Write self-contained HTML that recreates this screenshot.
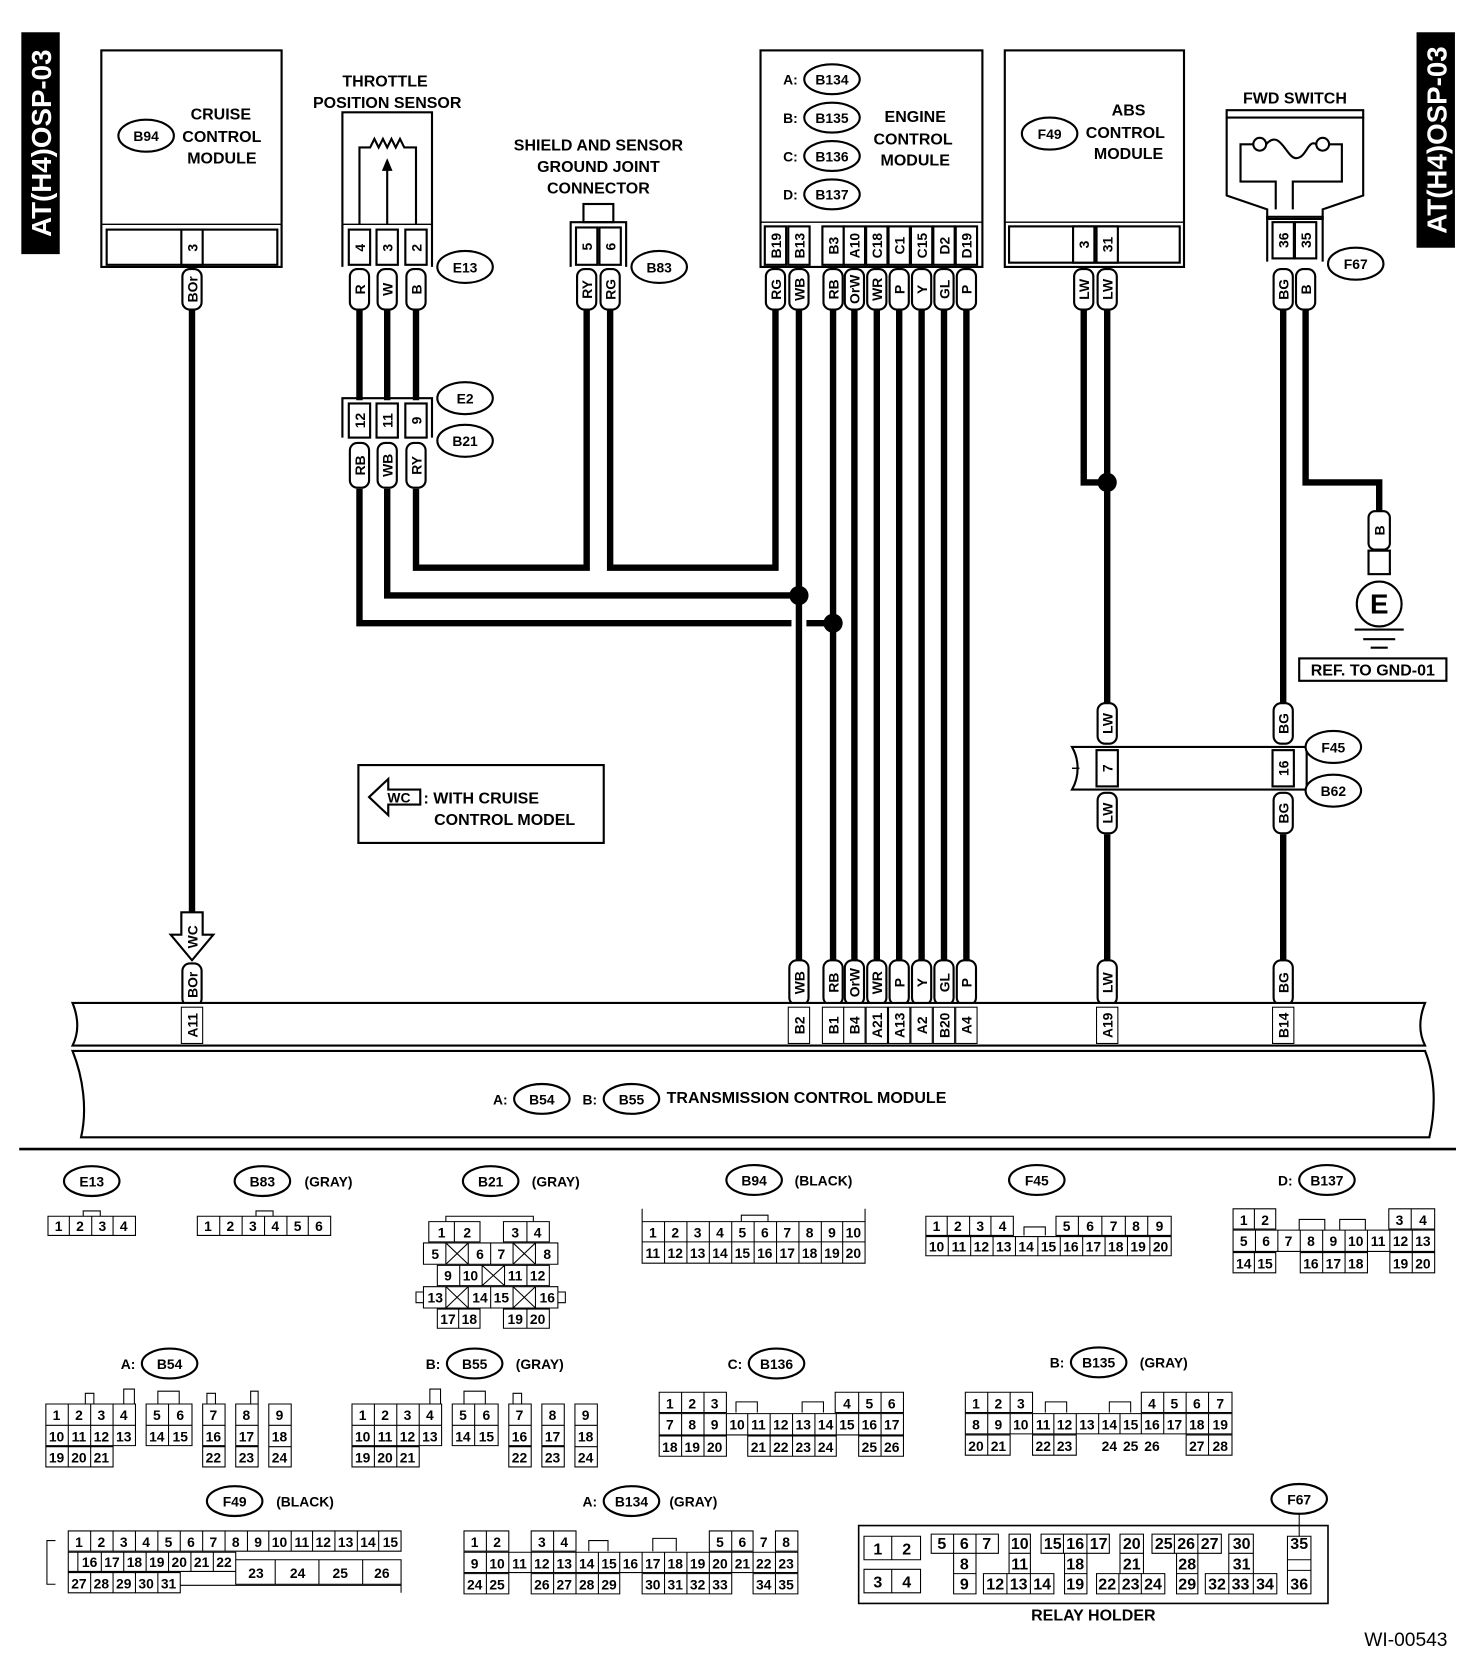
<!DOCTYPE html>
<html><head><meta charset="utf-8"><style>
html,body{margin:0;padding:0;background:#fff}
svg{display:block}
text{font-family:"Liberation Sans",sans-serif;font-weight:bold;fill:#000}
.l{font-size:15px}
.s{font-size:13px;font-weight:normal}
.p{font-size:13px}
.w{stroke:#000;stroke-width:6;fill:none}
.o{stroke:#000;stroke-width:2;fill:#fff}
.n{stroke:#000;stroke-width:1.3;fill:none}
.c{stroke:#000;stroke-width:1;fill:#fff}
</style></head><body>
<svg width="1472" height="1656" viewBox="0 0 1380 1552" xmlns="http://www.w3.org/2000/svg">
<rect x="20" y="30" width="36" height="208" fill="#000"/>
<text transform="translate(48,134) rotate(-90)" text-anchor="middle" style="font-size:26px;fill:#fff">AT(H4)OSP-03</text>
<rect x="1328" y="30" width="36" height="202" fill="#000"/>
<text transform="translate(1356,131) rotate(-90)" text-anchor="middle" style="font-size:26px;fill:#fff">AT(H4)OSP-03</text>

<g class="w">
<path d="M180 290V872"/>
<path d="M337 290V375M363 290V375M390 290V375"/>
<path d="M337 458V584H742M756 584H781"/>
<path d="M363 458V558H749"/>
<path d="M390 458V532H550V290"/>
<path d="M572 290V532H727V290"/>
<path d="M749 290V900M781 290V900M801 290V900M822 290V900M843 290V900M864 290V900M885 290V900M906 290V900"/>
<path d="M1016 290V452H1038M1038 290V660M1038 782V900"/>
<path d="M1203 290V660M1203 782V900"/>
<path d="M1224 290V452H1293V480"/>
</g>
<circle cx="749" cy="558" r="9"/><circle cx="781" cy="584" r="9"/><circle cx="1038" cy="452" r="9"/>

<rect x="95" y="47" width="169" height="203" class="o"/>
<line x1="95" y1="210" x2="264" y2="210" class="n"/>
<rect x="100" y="215" width="160" height="33" class="o"/>
<rect x="170" y="215" width="20" height="33" class="o"/>
<text class="p" transform="translate(180,232) rotate(-90)" text-anchor="middle" dy="5">3</text>
<ellipse cx="137" cy="127" rx="26" ry="15" class="o"/><text class="p" x="137" y="132" text-anchor="middle">B94</text>
<text class="l" x="207" y="112" text-anchor="middle">CRUISE</text>
<text class="l" x="208" y="133" text-anchor="middle">CONTROL</text>
<text class="l" x="208" y="153" text-anchor="middle">MODULE</text>

<text class="l" x="361" y="81" text-anchor="middle">THROTTLE</text>
<text class="l" x="363" y="101" text-anchor="middle">POSITION SENSOR</text>
<path d="M321 250V105H405V250" class="n" style="stroke-width:2"/>
<path d="M337 210V138H347l4-8 4 8 4-8 4 8 4-8 4 8 4-8 4 8H390V210M363 210V152" class="n" style="stroke-width:2"/>
<path d="M358 160l5-12 5 12z"/>
<line x1="321" y1="210" x2="405" y2="210" class="n"/>
<g><rect x="327" y="215" width="20" height="33" class="o"/><rect x="353" y="215" width="20" height="33" class="o"/><rect x="380" y="215" width="20" height="33" class="o"/>
<text class="p" transform="translate(337,232) rotate(-90)" text-anchor="middle" dy="5">4</text>
<text class="p" transform="translate(363,232) rotate(-90)" text-anchor="middle" dy="5">3</text>
<text class="p" transform="translate(390,232) rotate(-90)" text-anchor="middle" dy="5">2</text></g>
<ellipse cx="436" cy="250" rx="26" ry="15" class="o"/><text class="p" x="436" y="255" text-anchor="middle">E13</text>

<path d="M321 410V373H405V410" class="n" style="stroke-width:2"/>
<rect x="327" y="378" width="20" height="32" class="o"/><rect x="353" y="378" width="20" height="32" class="o"/><rect x="380" y="378" width="20" height="32" class="o"/>
<text class="p" transform="translate(337,394) rotate(-90)" text-anchor="middle" dy="5">12</text>
<text class="p" transform="translate(363,394) rotate(-90)" text-anchor="middle" dy="5">11</text>
<text class="p" transform="translate(390,394) rotate(-90)" text-anchor="middle" dy="5">9</text>
<ellipse cx="436" cy="373" rx="26" ry="15" class="o"/><text class="p" x="436" y="378" text-anchor="middle">E2</text>
<ellipse cx="436" cy="413" rx="26" ry="15" class="o"/><text class="p" x="436" y="418" text-anchor="middle">B21</text>

<text class="l" x="561" y="141" text-anchor="middle">SHIELD AND SENSOR</text>
<text class="l" x="561" y="161" text-anchor="middle">GROUND JOINT</text>
<text class="l" x="561" y="181" text-anchor="middle">CONNECTOR</text>
<rect x="547" y="191" width="28" height="17" class="o"/>
<path d="M535 250V208H587V250" class="n" style="stroke-width:2"/>
<rect x="540" y="213" width="20" height="35" class="o"/><rect x="562" y="213" width="20" height="35" class="o"/>
<text class="p" transform="translate(550,231) rotate(-90)" text-anchor="middle" dy="5">5</text>
<text class="p" transform="translate(572,231) rotate(-90)" text-anchor="middle" dy="5">6</text>
<ellipse cx="618" cy="250" rx="26" ry="15" class="o"/><text class="p" x="618" y="255" text-anchor="middle">B83</text>

<rect x="713" y="47" width="208" height="203" class="o"/>
<line x1="713" y1="208" x2="921" y2="208" class="n"/>
<g class="p" text-anchor="middle">
<text x="741" y="79">A:</text><ellipse cx="780" cy="74" rx="26" ry="14" class="o"/><text x="780" y="79">B134</text>
<text x="741" y="115">B:</text><ellipse cx="780" cy="110" rx="26" ry="14" class="o"/><text x="780" y="115">B135</text>
<text x="741" y="151">C:</text><ellipse cx="780" cy="146" rx="26" ry="14" class="o"/><text x="780" y="151">B136</text>
<text x="741" y="187">D:</text><ellipse cx="780" cy="182" rx="26" ry="14" class="o"/><text x="780" y="187">B137</text>
</g>
<text class="l" x="858" y="114" text-anchor="middle">ENGINE</text>
<text class="l" x="856" y="135" text-anchor="middle">CONTROL</text>
<text class="l" x="858" y="155" text-anchor="middle">MODULE</text>
<g>
<rect x="717" y="212" width="20" height="36" class="o"/><rect x="739" y="212" width="20" height="36" class="o"/>
<rect x="771" y="212" width="20" height="36" class="o"/><rect x="791" y="212" width="20" height="36" class="o"/><rect x="812" y="212" width="20" height="36" class="o"/><rect x="833" y="212" width="20" height="36" class="o"/><rect x="854" y="212" width="20" height="36" class="o"/><rect x="875" y="212" width="20" height="36" class="o"/><rect x="896" y="212" width="20" height="36" class="o"/>
<g class="p" text-anchor="middle">
<text transform="translate(727,230) rotate(-90)" dy="5">B19</text>
<text transform="translate(749,230) rotate(-90)" dy="5">B13</text>
<text transform="translate(781,230) rotate(-90)" dy="5">B3</text>
<text transform="translate(801,230) rotate(-90)" dy="5">A10</text>
<text transform="translate(822,230) rotate(-90)" dy="5">C18</text>
<text transform="translate(843,230) rotate(-90)" dy="5">C1</text>
<text transform="translate(864,230) rotate(-90)" dy="5">C15</text>
<text transform="translate(885,230) rotate(-90)" dy="5">D2</text>
<text transform="translate(906,230) rotate(-90)" dy="5">D19</text>
</g></g>

<rect x="942" y="47" width="168" height="203" class="o"/>
<line x1="942" y1="208" x2="1110" y2="208" class="n"/>
<rect x="946" y="212" width="160" height="34" class="o"/>
<rect x="1006" y="212" width="20" height="34" class="o"/><rect x="1028" y="212" width="20" height="34" class="o"/>
<text class="p" transform="translate(1016,229) rotate(-90)" text-anchor="middle" dy="5">3</text>
<text class="p" transform="translate(1038,229) rotate(-90)" text-anchor="middle" dy="5">31</text>
<ellipse cx="984" cy="125" rx="26" ry="15" class="o"/><text class="p" x="984" y="130" text-anchor="middle">F49</text>
<text class="l" x="1058" y="108" text-anchor="middle">ABS</text>
<text class="l" x="1055" y="129" text-anchor="middle">CONTROL</text>
<text class="l" x="1058" y="149" text-anchor="middle">MODULE</text>

<text class="l" x="1214" y="97" text-anchor="middle">FWD SWITCH</text>
<path d="M1150 103H1278V110H1150Z" class="o"/>
<path d="M1150 110V183L1188 196V205H1240V196L1278 183V110" class="n" style="stroke-width:2"/>
<path d="M1196 196V170H1163V135H1176M1212 196V170H1258V135H1245" class="n" style="stroke-width:2"/>
<circle cx="1181" cy="135" r="6" class="o"/><circle cx="1240" cy="135" r="6" class="o"/>
<path d="M1187 135C1200 120 1206 148 1215 148C1225 148 1226 130 1234 135" class="n" style="stroke-width:2"/>
<path d="M1188 245V203H1240V245" class="n" style="stroke-width:2"/>
<rect x="1193" y="208" width="20" height="34" class="o"/><rect x="1214" y="208" width="20" height="34" class="o"/>
<text class="p" transform="translate(1203,225) rotate(-90)" text-anchor="middle" dy="5">36</text>
<text class="p" transform="translate(1224,225) rotate(-90)" text-anchor="middle" dy="5">35</text>
<ellipse cx="1271" cy="247" rx="26" ry="15" class="o"/><text class="p" x="1271" y="252" text-anchor="middle">F67</text>

<rect x="1283" y="479" width="20" height="36" rx="6" class="o"/>
<text class="p" transform="translate(1293,497) rotate(-90)" text-anchor="middle" dy="5">B</text>
<rect x="1283" y="516" width="20" height="22" class="o"/>
<circle cx="1293" cy="566" r="21" class="o"/>
<text x="1293" y="575" text-anchor="middle" style="font-size:26px">E</text>
<path d="M1270 590H1316M1278 599H1308M1285 607H1301" class="n" style="stroke-width:2"/>
<rect x="1218" y="617" width="138" height="21" class="o"/>
<text class="l" x="1287" y="633" text-anchor="middle">REF. TO GND-01</text>

<path d="M1005 700H1225V740H1005C1012 728 1012 712 1005 700Z" class="o"/>
<line x1="1005" y1="720" x2="1012" y2="720" class="n"/>
<rect x="1028" y="703" width="20" height="34" class="o"/><rect x="1193" y="703" width="20" height="34" class="o"/>
<text class="p" transform="translate(1038,720) rotate(-90)" text-anchor="middle" dy="5">7</text>
<text class="p" transform="translate(1203,720) rotate(-90)" text-anchor="middle" dy="5">16</text>
<ellipse cx="1250" cy="700" rx="26" ry="15" class="o"/><text class="p" x="1250" y="705" text-anchor="middle">F45</text>
<ellipse cx="1250" cy="741" rx="26" ry="15" class="o"/><text class="p" x="1250" y="746" text-anchor="middle">B62</text>

<g class="p" text-anchor="middle">
<rect x="171" y="252" width="18" height="38" rx="7" class="o"/><text transform="translate(180,271) rotate(-90)" dy="5">BOr</text>
<rect x="328" y="252" width="18" height="38" rx="7" class="o"/><text transform="translate(337,271) rotate(-90)" dy="5">R</text>
<rect x="354" y="252" width="18" height="38" rx="7" class="o"/><text transform="translate(363,271) rotate(-90)" dy="5">W</text>
<rect x="381" y="252" width="18" height="38" rx="7" class="o"/><text transform="translate(390,271) rotate(-90)" dy="5">B</text>
<rect x="328" y="415" width="18" height="42" rx="7" class="o"/><text transform="translate(337,436) rotate(-90)" dy="5">RB</text>
<rect x="354" y="415" width="18" height="42" rx="7" class="o"/><text transform="translate(363,436) rotate(-90)" dy="5">WB</text>
<rect x="381" y="415" width="18" height="42" rx="7" class="o"/><text transform="translate(390,436) rotate(-90)" dy="5">RY</text>
<rect x="541" y="252" width="18" height="38" rx="7" class="o"/><text transform="translate(550,271) rotate(-90)" dy="5">RY</text>
<rect x="563" y="252" width="18" height="38" rx="7" class="o"/><text transform="translate(572,271) rotate(-90)" dy="5">RG</text>
<rect x="718" y="252" width="18" height="38" rx="7" class="o"/><text transform="translate(727,271) rotate(-90)" dy="5">RG</text>
<rect x="740" y="252" width="18" height="38" rx="7" class="o"/><text transform="translate(749,271) rotate(-90)" dy="5">WB</text>
<rect x="772" y="252" width="18" height="38" rx="7" class="o"/><text transform="translate(781,271) rotate(-90)" dy="5">RB</text>
<rect x="792" y="252" width="18" height="38" rx="7" class="o"/><text transform="translate(801,271) rotate(-90)" dy="5">OrW</text>
<rect x="813" y="252" width="18" height="38" rx="7" class="o"/><text transform="translate(822,271) rotate(-90)" dy="5">WR</text>
<rect x="834" y="252" width="18" height="38" rx="7" class="o"/><text transform="translate(843,271) rotate(-90)" dy="5">P</text>
<rect x="855" y="252" width="18" height="38" rx="7" class="o"/><text transform="translate(864,271) rotate(-90)" dy="5">Y</text>
<rect x="876" y="252" width="18" height="38" rx="7" class="o"/><text transform="translate(885,271) rotate(-90)" dy="5">GL</text>
<rect x="897" y="252" width="18" height="38" rx="7" class="o"/><text transform="translate(906,271) rotate(-90)" dy="5">P</text>
<rect x="1007" y="252" width="18" height="38" rx="7" class="o"/><text transform="translate(1016,271) rotate(-90)" dy="5">LW</text>
<rect x="1029" y="252" width="18" height="38" rx="7" class="o"/><text transform="translate(1038,271) rotate(-90)" dy="5">LW</text>
<rect x="1194" y="252" width="18" height="38" rx="7" class="o"/><text transform="translate(1203,271) rotate(-90)" dy="5">BG</text>
<rect x="1215" y="252" width="18" height="38" rx="7" class="o"/><text transform="translate(1224,271) rotate(-90)" dy="5">B</text>
<rect x="1029" y="659" width="18" height="38" rx="7" class="o"/><text transform="translate(1038,678) rotate(-90)" dy="5">LW</text>
<rect x="1194" y="659" width="18" height="38" rx="7" class="o"/><text transform="translate(1203,678) rotate(-90)" dy="5">BG</text>
<rect x="1029" y="743" width="18" height="38" rx="7" class="o"/><text transform="translate(1038,762) rotate(-90)" dy="5">LW</text>
<rect x="1194" y="743" width="18" height="38" rx="7" class="o"/><text transform="translate(1203,762) rotate(-90)" dy="5">BG</text>
<rect x="171" y="903" width="18" height="40" rx="7" class="o"/><text transform="translate(180,923) rotate(-90)" dy="5">BOr</text>
<rect x="740" y="900" width="18" height="42" rx="7" class="o"/><text transform="translate(749,921) rotate(-90)" dy="5">WB</text>
<rect x="772" y="900" width="18" height="42" rx="7" class="o"/><text transform="translate(781,921) rotate(-90)" dy="5">RB</text>
<rect x="792" y="900" width="18" height="42" rx="7" class="o"/><text transform="translate(801,921) rotate(-90)" dy="5">OrW</text>
<rect x="813" y="900" width="18" height="42" rx="7" class="o"/><text transform="translate(822,921) rotate(-90)" dy="5">WR</text>
<rect x="834" y="900" width="18" height="42" rx="7" class="o"/><text transform="translate(843,921) rotate(-90)" dy="5">P</text>
<rect x="855" y="900" width="18" height="42" rx="7" class="o"/><text transform="translate(864,921) rotate(-90)" dy="5">Y</text>
<rect x="876" y="900" width="18" height="42" rx="7" class="o"/><text transform="translate(885,921) rotate(-90)" dy="5">GL</text>
<rect x="897" y="900" width="18" height="42" rx="7" class="o"/><text transform="translate(906,921) rotate(-90)" dy="5">P</text>
<rect x="1029" y="900" width="18" height="42" rx="7" class="o"/><text transform="translate(1038,921) rotate(-90)" dy="5">LW</text>
<rect x="1194" y="900" width="18" height="42" rx="7" class="o"/><text transform="translate(1203,921) rotate(-90)" dy="5">BG</text>
</g>
<path d="M170 855H190V876H200L180 900L160 876H170Z" class="o"/>
<text class="p" transform="translate(180,878) rotate(-90)" text-anchor="middle" dy="5">WC</text>

<rect x="336" y="717" width="230" height="73" class="o"/>
<path d="M346 747L364 730V740H394V754H364V764Z" class="o"/>
<text class="p" x="374" y="752" text-anchor="middle">WC</text>
<text class="l" x="397" y="753">: WITH CRUISE</text>
<text class="l" x="407" y="773">CONTROL MODEL</text>

<path d="M68 940H1336C1330 955 1330 968 1336 980H68C74 968 74 955 68 940Z" class="o"/>
<path d="M68 985H1336C1346 1010 1346 1040 1340 1066H76C82 1040 78 1010 68 985Z" class="o"/>
<g class="p" text-anchor="middle">
<rect x="170" y="944" width="20" height="34" class="c"/><text transform="translate(180,961) rotate(-90)" dy="5">A11</text>
<rect x="739" y="944" width="20" height="34" class="c"/><text transform="translate(749,961) rotate(-90)" dy="5">B2</text>
<rect x="771" y="944" width="20" height="34" class="c"/><text transform="translate(781,961) rotate(-90)" dy="5">B1</text>
<rect x="791" y="944" width="20" height="34" class="c"/><text transform="translate(801,961) rotate(-90)" dy="5">B4</text>
<rect x="812" y="944" width="20" height="34" class="c"/><text transform="translate(822,961) rotate(-90)" dy="5">A21</text>
<rect x="833" y="944" width="20" height="34" class="c"/><text transform="translate(843,961) rotate(-90)" dy="5">A13</text>
<rect x="854" y="944" width="20" height="34" class="c"/><text transform="translate(864,961) rotate(-90)" dy="5">A2</text>
<rect x="875" y="944" width="20" height="34" class="c"/><text transform="translate(885,961) rotate(-90)" dy="5">B20</text>
<rect x="896" y="944" width="20" height="34" class="c"/><text transform="translate(906,961) rotate(-90)" dy="5">A4</text>
<rect x="1028" y="944" width="20" height="34" class="c"/><text transform="translate(1038,961) rotate(-90)" dy="5">A19</text>
<rect x="1193" y="944" width="20" height="34" class="c"/><text transform="translate(1203,961) rotate(-90)" dy="5">B14</text>
<text x="469" y="1035">A:</text><ellipse cx="508" cy="1030" rx="26" ry="14" class="o"/><text x="508" y="1035">B54</text>
<text x="553" y="1035">B:</text><ellipse cx="592" cy="1030" rx="26" ry="14" class="o"/><text x="592" y="1035">B55</text>
</g>
<text class="l" x="625" y="1034">TRANSMISSION CONTROL MODULE</text>

<line x1="18" y1="1077" x2="1365" y2="1077" stroke="#000" stroke-width="2.5"/>

<g class="p" text-anchor="middle">
<ellipse cx="86" cy="1107" rx="26" ry="14" class="o"/><text x="86" y="1112">E13</text>
<ellipse cx="246" cy="1107" rx="26" ry="14" class="o"/><text x="246" y="1112">B83</text><text x="308" y="1112">(GRAY)</text>
<ellipse cx="460" cy="1107" rx="26" ry="14" class="o"/><text x="460" y="1112">B21</text><text x="521" y="1112">(GRAY)</text>
<ellipse cx="707" cy="1106" rx="26" ry="14" class="o"/><text x="707" y="1111">B94</text><text x="772" y="1111">(BLACK)</text>
<ellipse cx="972" cy="1106" rx="26" ry="14" class="o"/><text x="972" y="1111">F45</text>
<text x="1205" y="1111">D:</text><ellipse cx="1244" cy="1106" rx="26" ry="14" class="o"/><text x="1244" y="1111">B137</text>
<text x="120" y="1283">A:</text><ellipse cx="159" cy="1278" rx="26" ry="14" class="o"/><text x="159" y="1283">B54</text>
<text x="406" y="1283">B:</text><ellipse cx="445" cy="1278" rx="26" ry="14" class="o"/><text x="445" y="1283">B55</text><text x="506" y="1283">(GRAY)</text>
<text x="689" y="1283">C:</text><ellipse cx="728" cy="1278" rx="26" ry="14" class="o"/><text x="728" y="1283">B136</text>
<text x="991" y="1282">B:</text><ellipse cx="1030" cy="1277" rx="26" ry="14" class="o"/><text x="1030" y="1282">B135</text><text x="1091" y="1282">(GRAY)</text>
<ellipse cx="220" cy="1407" rx="26" ry="14" class="o"/><text x="220" y="1412">F49</text><text x="286" y="1412">(BLACK)</text>
<text x="553" y="1412">A:</text><ellipse cx="592" cy="1407" rx="26" ry="14" class="o"/><text x="592" y="1412">B134</text><text x="650" y="1412">(GRAY)</text>
<ellipse cx="1218" cy="1405" rx="26" ry="14" class="o"/><text x="1218" y="1410">F67</text>
</g>

<g class="s" text-anchor="middle" stroke="#000" stroke-width="1" fill="none">
<path d="M45 1140H127V1158H45ZM65 1140V1158M86 1140V1158M106 1140V1158M78 1140V1135H94V1140"/>
<path d="M185 1140H310V1158H185ZM206 1140V1158M227 1140V1158M248 1140V1158M269 1140V1158M289 1140V1158M240 1140V1135H256V1140"/>
<path d="M402 1145H450V1164H402ZM426 1145V1164M472 1145H515V1164H472ZM494 1145V1164M418 1145V1140H500V1145"/>
<path d="M397 1165H523V1185H397ZM418 1165V1185M439 1165V1185M460 1165V1185M481 1165V1185M502 1165V1185M418 1165L439 1185M439 1165L418 1185M481 1165L502 1185M502 1165L481 1185"/>
<path d="M410 1186H515V1205H410ZM431 1186V1205M452 1186V1205M473 1186V1205M494 1186V1205M452 1186L473 1205M473 1186L452 1205"/>
<path d="M397 1206H523V1226H397ZM418 1206V1226M439 1206V1226M460 1206V1226M481 1206V1226M502 1206V1226M418 1206L439 1226M439 1206L418 1226M481 1206L502 1226M502 1206L481 1226M397 1211H390V1221H397M523 1211H530V1221H523"/>
<path d="M410 1227H450V1245H410ZM430 1227V1245M472 1227H515V1245H472ZM494 1227V1245"/>
<path d="M602 1145H811V1184H602ZM602 1164H811M623 1145V1184M644 1145V1184M665 1145V1184M686 1145V1184M707 1145V1184M728 1145V1184M749 1145V1184M770 1145V1184M790 1145V1184M602 1145V1133M811 1145V1133M695 1145V1139H720V1145"/>
<path d="M868 1140H950V1158H868ZM888 1140V1158M909 1140V1158M929 1140V1158M990 1140H1098V1158H990ZM1011 1140V1158M1033 1140V1158M1055 1140V1158M1076 1140V1158M960 1158V1150H980V1158"/>
<path d="M868 1159H1098V1177H868ZM889 1159V1177M910 1159V1177M931 1159V1177M952 1159V1177M973 1159V1177M994 1159V1177M1015 1159V1177M1036 1159V1177M1057 1159V1177M1078 1159V1177"/>
<path d="M1156 1133H1196V1152H1156ZM1176 1133V1152M1302 1133H1345V1152H1302ZM1323 1133V1152M1218 1153V1143H1242V1153M1256 1153V1143H1280V1153"/>
<path d="M1156 1153H1345V1173H1156ZM1177 1153V1173M1198 1153V1173M1219 1153V1173M1240 1153V1173M1261 1153V1173M1282 1153V1173M1303 1153V1173M1324 1153V1173"/>
<path d="M1156 1174H1196V1193H1156ZM1176 1174V1193M1219 1174H1282V1193H1219ZM1240 1174V1193M1261 1174V1193M1303 1174H1345V1193H1303ZM1324 1174V1193"/>
<path d="M43 1316H127V1355H43ZM43 1336H127M64 1316V1375M85 1316V1375M106 1316V1355M43 1356H106V1375H43ZM43 1356V1375M137 1316H180V1355H137ZM137 1336H180M158 1316V1355M190 1316H211V1355H190ZM190 1336H211M190 1356H211V1375H190ZM221 1316H242V1355H221ZM221 1336H242M221 1356H242V1375H221ZM252 1316H273V1375H252ZM252 1336H273M252 1356H273M80 1316V1306H88V1316M116 1316V1302H126V1316M148 1316V1304H168V1316M194 1316V1306H202V1316M235 1316V1304H242V1316"/>
<path d="M330 1316H414V1355H330ZM330 1336H414M351 1316V1375M372 1316V1375M393 1316V1355M330 1356H393V1375H330ZM424 1316H467V1355H424ZM424 1336H467M445 1316V1355M477 1316H498V1355H477ZM477 1336H498M477 1356H498V1375H477ZM508 1316H529V1355H508ZM508 1336H529M508 1356H529V1375H508ZM539 1316H560V1375H539ZM539 1336H560M539 1356H560M403 1316V1302H413V1316M435 1316V1304H455V1316M481 1316V1306H489V1316"/>
<path d="M618 1305H681V1324H618ZM639 1305V1324M660 1305V1324M783 1305H847V1324H783ZM805 1305V1324M826 1305V1324M690 1324V1314H710V1324M752 1324V1314H772V1324"/>
<path d="M618 1325H847V1345H618ZM639 1325V1345M660 1325V1345M681 1325V1345M701 1325V1345M722 1325V1345M743 1325V1345M764 1325V1345M784 1325V1345M805 1325V1345M826 1325V1345"/>
<path d="M618 1346H681V1365H618ZM639 1346V1365M660 1346V1365M701 1346H784V1365H701ZM722 1346V1365M743 1346V1365M764 1346V1365M805 1346H847V1365H805ZM826 1346V1365"/>
<path d="M905 1305H968V1324H905ZM926 1305V1324M947 1305V1324M1070 1305H1155V1324H1070ZM1091 1305V1324M1112 1305V1324M1133 1305V1324M980 1324V1314H1000V1324M1040 1324V1314H1060V1324"/>
<path d="M905 1325H1155V1344H905ZM926 1325V1344M947 1325V1344M968 1325V1344M988 1325V1344M1009 1325V1344M1030 1325V1344M1050 1325V1344M1070 1325V1344M1091 1325V1344M1112 1325V1344M1133 1325V1344"/>
<path d="M905 1345H947V1364H905ZM926 1345V1364M968 1345H1009V1364H968ZM988 1345V1364M1112 1345H1155V1364H1112ZM1133 1345V1364"/>
<path d="M64 1435H376V1454H64ZM85 1435V1454M106 1435V1454M127 1435V1454M148 1435V1454M169 1435V1454M190 1435V1454M211 1435V1454M232 1435V1454M252 1435V1454M273 1435V1454M293 1435V1454M314 1435V1454M335 1435V1454M355 1435V1454"/>
<path d="M64 1455H221V1473H64ZM73 1455V1473M95 1455V1473M116 1455V1473M137 1455V1473M158 1455V1473M179 1455V1473M200 1455V1473M221 1462H376V1485H221ZM258 1462V1485M299 1462V1485M340 1462V1485"/>
<path d="M64 1474H169V1493H64ZM85 1474V1493M106 1474V1493M127 1474V1493M148 1474V1493M169 1486H376V1493M376 1485V1493M52 1444H44V1485H52"/>
<path d="M435 1435H477V1454H435ZM456 1435V1454M498 1435H540V1454H498ZM519 1435V1454M665 1435H706V1454H665ZM686 1435V1454M727 1435H748V1454H727ZM552 1454V1444H570V1454M612 1454V1442H634V1454"/>
<path d="M435 1455H748V1474H435ZM456 1455V1474M477 1455V1474M498 1455V1474M519 1455V1474M540 1455V1474M561 1455V1474M581 1455V1474M602 1455V1474M623 1455V1474M644 1455V1474M665 1455V1474M686 1455V1474M706 1455V1474M727 1455V1474"/>
<path d="M435 1475H477V1494H435ZM456 1475V1494M498 1475H581V1494H498ZM519 1475V1494M540 1475V1494M561 1475V1494M602 1475H686V1494H602ZM623 1475V1494M644 1475V1494M665 1475V1494M706 1475H748V1494H706ZM727 1475V1494"/>
<path d="M805 1430H1245V1503H805Z" stroke-width="1.5"/>
<path d="M810 1440H863V1462H810ZM836 1440V1462M810 1471H863V1493H810ZM836 1471V1493"/>
<path d="M873 1438H936V1456H873ZM894 1438V1456M915 1438V1456M894 1456H915V1475M894 1475H915V1494H894ZM894 1456V1475"/>
<path d="M946 1438H966V1456H946ZM946 1456V1475H966V1456M922 1475H988V1494H922ZM944 1475V1494M966 1475V1494"/>
<path d="M976 1438H1040V1456H976ZM997 1438V1456M1019 1438V1456M998 1456V1475H1019V1456M998 1475H1019V1494H998ZM1028 1475H1092V1494H1028ZM1049 1475V1494M1070 1475V1494M1050 1438H1072V1456H1050ZM1050 1456V1475H1072V1456"/>
<path d="M1080 1438H1145V1456H1080ZM1101 1438V1456M1123 1438V1456M1103 1456V1475H1123V1456M1103 1475H1123V1494H1103ZM1130 1475H1197V1494H1130ZM1152 1475V1494M1175 1475V1494M1152 1438H1175V1456H1152ZM1152 1456V1475H1175V1456"/>
<path d="M1207 1440H1229V1494H1207ZM1207 1462H1229M1207 1472H1229M1218 1418V1440"/>
</g>
<g class="s" text-anchor="middle">
<text y="1154"><tspan x="55">1</tspan><tspan x="75">2</tspan><tspan x="96">3</tspan><tspan x="116">4</tspan></text>
<text y="1154"><tspan x="195">1</tspan><tspan x="216">2</tspan><tspan x="237">3</tspan><tspan x="258">4</tspan><tspan x="279">5</tspan><tspan x="299">6</tspan></text>
<text y="1160"><tspan x="414">1</tspan><tspan x="438">2</tspan><tspan x="483">3</tspan><tspan x="504">4</tspan></text>
<text y="1180"><tspan x="408">5</tspan><tspan x="450">6</tspan><tspan x="470">7</tspan><tspan x="513">8</tspan></text>
<text y="1200"><tspan x="420">9</tspan><tspan x="441">10</tspan><tspan x="483">11</tspan><tspan x="504">12</tspan></text>
<text y="1221"><tspan x="408">13</tspan><tspan x="450">14</tspan><tspan x="470">15</tspan><tspan x="513">16</tspan></text>
<text y="1241"><tspan x="420">17</tspan><tspan x="440">18</tspan><tspan x="483">19</tspan><tspan x="504">20</tspan></text>
<text y="1160"><tspan x="612">1</tspan><tspan x="633">2</tspan><tspan x="654">3</tspan><tspan x="675">4</tspan><tspan x="696">5</tspan><tspan x="717">6</tspan><tspan x="738">7</tspan><tspan x="759">8</tspan><tspan x="780">9</tspan><tspan x="800">10</tspan></text>
<text y="1179"><tspan x="612">11</tspan><tspan x="633">12</tspan><tspan x="654">13</tspan><tspan x="675">14</tspan><tspan x="696">15</tspan><tspan x="717">16</tspan><tspan x="738">17</tspan><tspan x="759">18</tspan><tspan x="780">19</tspan><tspan x="800">20</tspan></text>
<text y="1154"><tspan x="878">1</tspan><tspan x="898">2</tspan><tspan x="919">3</tspan><tspan x="940">4</tspan><tspan x="1000">5</tspan><tspan x="1022">6</tspan><tspan x="1044">7</tspan><tspan x="1065">8</tspan><tspan x="1087">9</tspan></text>
<text y="1173"><tspan x="878">10</tspan><tspan x="899">11</tspan><tspan x="920">12</tspan><tspan x="941">13</tspan><tspan x="962">14</tspan><tspan x="983">15</tspan><tspan x="1004">16</tspan><tspan x="1025">17</tspan><tspan x="1046">18</tspan><tspan x="1067">19</tspan><tspan x="1088">20</tspan></text>
<text y="1148"><tspan x="1166">1</tspan><tspan x="1186">2</tspan><tspan x="1312">3</tspan><tspan x="1334">4</tspan></text>
<text y="1168"><tspan x="1166">5</tspan><tspan x="1187">6</tspan><tspan x="1208">7</tspan><tspan x="1229">8</tspan><tspan x="1250">9</tspan><tspan x="1271">10</tspan><tspan x="1292">11</tspan><tspan x="1313">12</tspan><tspan x="1334">13</tspan></text>
<text y="1189"><tspan x="1166">14</tspan><tspan x="1186">15</tspan><tspan x="1229">16</tspan><tspan x="1250">17</tspan><tspan x="1271">18</tspan><tspan x="1313">19</tspan><tspan x="1334">20</tspan></text>
<text y="1331"><tspan x="53">1</tspan><tspan x="74">2</tspan><tspan x="95">3</tspan><tspan x="116">4</tspan><tspan x="147">5</tspan><tspan x="169">6</tspan><tspan x="200">7</tspan><tspan x="231">8</tspan><tspan x="262">9</tspan></text>
<text y="1351"><tspan x="53">10</tspan><tspan x="74">11</tspan><tspan x="95">12</tspan><tspan x="116">13</tspan><tspan x="147">14</tspan><tspan x="169">15</tspan><tspan x="200">16</tspan><tspan x="231">17</tspan><tspan x="262">18</tspan></text>
<text y="1371"><tspan x="53">19</tspan><tspan x="74">20</tspan><tspan x="95">21</tspan><tspan x="200">22</tspan><tspan x="231">23</tspan><tspan x="262">24</tspan></text>
<text y="1331"><tspan x="340">1</tspan><tspan x="361">2</tspan><tspan x="382">3</tspan><tspan x="403">4</tspan><tspan x="434">5</tspan><tspan x="456">6</tspan><tspan x="487">7</tspan><tspan x="518">8</tspan><tspan x="549">9</tspan></text>
<text y="1351"><tspan x="340">10</tspan><tspan x="361">11</tspan><tspan x="382">12</tspan><tspan x="403">13</tspan><tspan x="434">14</tspan><tspan x="456">15</tspan><tspan x="487">16</tspan><tspan x="518">17</tspan><tspan x="549">18</tspan></text>
<text y="1371"><tspan x="340">19</tspan><tspan x="361">20</tspan><tspan x="382">21</tspan><tspan x="487">22</tspan><tspan x="518">23</tspan><tspan x="549">24</tspan></text>
<text y="1320"><tspan x="628">1</tspan><tspan x="649">2</tspan><tspan x="670">3</tspan><tspan x="794">4</tspan><tspan x="815">5</tspan><tspan x="836">6</tspan></text>
<text y="1340"><tspan x="628">7</tspan><tspan x="649">8</tspan><tspan x="670">9</tspan><tspan x="691">10</tspan><tspan x="711">11</tspan><tspan x="732">12</tspan><tspan x="753">13</tspan><tspan x="774">14</tspan><tspan x="794">15</tspan><tspan x="815">16</tspan><tspan x="836">17</tspan></text>
<text y="1361"><tspan x="628">18</tspan><tspan x="649">19</tspan><tspan x="670">20</tspan><tspan x="711">21</tspan><tspan x="732">22</tspan><tspan x="753">23</tspan><tspan x="774">24</tspan><tspan x="815">25</tspan><tspan x="836">26</tspan></text>
<text y="1320"><tspan x="915">1</tspan><tspan x="936">2</tspan><tspan x="957">3</tspan><tspan x="1080">4</tspan><tspan x="1101">5</tspan><tspan x="1122">6</tspan><tspan x="1144">7</tspan></text>
<text y="1340"><tspan x="915">8</tspan><tspan x="936">9</tspan><tspan x="957">10</tspan><tspan x="978">11</tspan><tspan x="998">12</tspan><tspan x="1019">13</tspan><tspan x="1040">14</tspan><tspan x="1060">15</tspan><tspan x="1080">16</tspan><tspan x="1101">17</tspan><tspan x="1122">18</tspan><tspan x="1144">19</tspan></text>
<text y="1360"><tspan x="915">20</tspan><tspan x="936">21</tspan><tspan x="978">22</tspan><tspan x="998">23</tspan><tspan x="1040">24</tspan><tspan x="1060">25</tspan><tspan x="1080">26</tspan><tspan x="1122">27</tspan><tspan x="1144">28</tspan></text>
<text y="1450"><tspan x="74">1</tspan><tspan x="95">2</tspan><tspan x="116">3</tspan><tspan x="137">4</tspan><tspan x="158">5</tspan><tspan x="179">6</tspan><tspan x="200">7</tspan><tspan x="221">8</tspan><tspan x="242">9</tspan><tspan x="262">10</tspan><tspan x="283">11</tspan><tspan x="303">12</tspan><tspan x="324">13</tspan><tspan x="345">14</tspan><tspan x="366">15</tspan></text>
<text y="1469"><tspan x="84">16</tspan><tspan x="105">17</tspan><tspan x="126">18</tspan><tspan x="147">19</tspan><tspan x="168">20</tspan><tspan x="189">21</tspan><tspan x="210">22</tspan></text>
<text y="1479"><tspan x="240">23</tspan><tspan x="279">24</tspan><tspan x="319">25</tspan><tspan x="358">26</tspan></text>
<text y="1489"><tspan x="74">27</tspan><tspan x="95">28</tspan><tspan x="116">29</tspan><tspan x="137">30</tspan><tspan x="158">31</tspan></text>
<text y="1450"><tspan x="445">1</tspan><tspan x="466">2</tspan><tspan x="508">3</tspan><tspan x="529">4</tspan><tspan x="675">5</tspan><tspan x="696">6</tspan><tspan x="716">7</tspan><tspan x="737">8</tspan></text>
<text y="1470"><tspan x="445">9</tspan><tspan x="466">10</tspan><tspan x="487">11</tspan><tspan x="508">12</tspan><tspan x="529">13</tspan><tspan x="550">14</tspan><tspan x="571">15</tspan><tspan x="591">16</tspan><tspan x="612">17</tspan><tspan x="633">18</tspan><tspan x="654">19</tspan><tspan x="675">20</tspan><tspan x="696">21</tspan><tspan x="716">22</tspan><tspan x="737">23</tspan></text>
<text y="1490"><tspan x="445">24</tspan><tspan x="466">25</tspan><tspan x="508">26</tspan><tspan x="529">27</tspan><tspan x="550">28</tspan><tspan x="571">29</tspan><tspan x="612">30</tspan><tspan x="633">31</tspan><tspan x="654">32</tspan><tspan x="675">33</tspan><tspan x="716">34</tspan><tspan x="737">35</tspan></text>
<g style="font-size:15px">
<text y="1457"><tspan x="823">1</tspan><tspan x="850">2</tspan></text>
<text y="1488"><tspan x="823">3</tspan><tspan x="850">4</tspan></text>
<text y="1452"><tspan x="883">5</tspan><tspan x="904">6</tspan><tspan x="925">7</tspan><tspan x="956">10</tspan><tspan x="987">15</tspan><tspan x="1008">16</tspan><tspan x="1030">17</tspan><tspan x="1061">20</tspan><tspan x="1091">25</tspan><tspan x="1112">26</tspan><tspan x="1134">27</tspan><tspan x="1164">30</tspan><tspan x="1218">35</tspan></text>
<text y="1471"><tspan x="904">8</tspan><tspan x="956">11</tspan><tspan x="1008">18</tspan><tspan x="1061">21</tspan><tspan x="1113">28</tspan><tspan x="1164">31</tspan></text>
<text y="1490"><tspan x="904">9</tspan><tspan x="933">12</tspan><tspan x="955">13</tspan><tspan x="977">14</tspan><tspan x="1008">19</tspan><tspan x="1038">22</tspan><tspan x="1060">23</tspan><tspan x="1081">24</tspan><tspan x="1113">29</tspan><tspan x="1141">32</tspan><tspan x="1163">33</tspan><tspan x="1186">34</tspan><tspan x="1218">36</tspan></text>
</g>
</g>
<text class="l" x="1025" y="1519" text-anchor="middle">RELAY HOLDER</text>
<text x="1318" y="1543" text-anchor="middle" style="font-size:18px;font-weight:normal">WI-00543</text>
</svg>
</body></html>
